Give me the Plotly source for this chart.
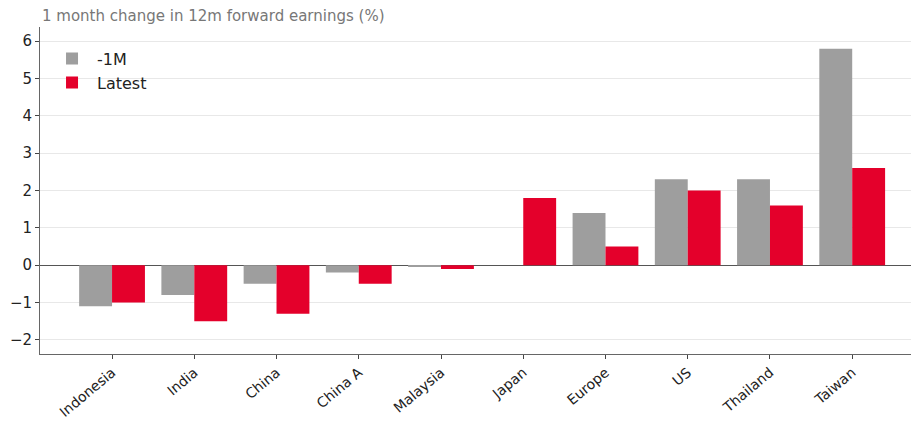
import plotly.graph_objects as go

categories = ["Indonesia", "India", "China", "China A", "Malaysia", "Japan", "Europe", "US", "Thailand", "Taiwan"]
prev_month = [-1.1, -0.8, -0.5, -0.2, -0.05, 0.0, 1.4, 2.3, 2.3, 5.8]
latest = [-1.0, -1.5, -1.3, -0.5, -0.1, 1.8, 0.5, 2.0, 1.6, 2.6]
y_ticks = [-2, -1, 0, 1, 2, 3, 4, 5, 6]

font = "DejaVu Sans, Verdana, sans-serif"

fig = go.Figure()
fig.add_trace(go.Bar(x=categories, y=prev_month, name="-1M", marker=dict(color="#9e9e9e", line=dict(width=0))))
fig.add_trace(go.Bar(x=categories, y=latest, name="Latest", marker=dict(color="#e4002b", line=dict(width=0))))

# page body has an 8px default margin; size the figure to fit the window
fig.update_layout(
    width=911, height=415,
    barmode="group", bargap=0.2, bargroupgap=0,
    plot_bgcolor="white", paper_bgcolor="white",
    margin=dict(l=32, r=1, t=19, b=69),
    font=dict(family=font, size=15, color="#222"),
    showlegend=True,
    legend=dict(x=0.008, y=0.955, xanchor="left", yanchor="top", bgcolor="rgba(0,0,0,0)",
                font=dict(size=16, color="#222"), tracegroupgap=2, itemwidth=40),
    annotations=[dict(text="1 month change in 12m forward earnings (%)", x=0, y=1.0,
                      xref="paper", yref="paper", xanchor="left", yanchor="bottom",
                      showarrow=False, font=dict(size=15, color="#777"))],
)
fig.update_xaxes(
    type="category", range=[-0.876, 9.8], automargin=False,
    showline=True, linecolor="#666", linewidth=1, mirror=False,
    ticks="outside", ticklen=4, tickcolor="#444", tickangle=-40,
    showgrid=False, tickfont=dict(size=14, color="#222"),
)
fig.update_yaxes(
    range=[-2.38, 6.38], tickvals=y_ticks, automargin=False,
    ticktext=[("\u2212" + str(-v)) if v < 0 else str(v) for v in y_ticks],
    showline=True, linecolor="#666", linewidth=1,
    ticks="outside", ticklen=4, tickcolor="#444",
    showgrid=True, gridcolor="#e8e8e8", gridwidth=1,
    zeroline=True, zerolinecolor="#555", zerolinewidth=1.3,
    tickfont=dict(size=15, color="#222"),
)

fig.write_html("out.html")
